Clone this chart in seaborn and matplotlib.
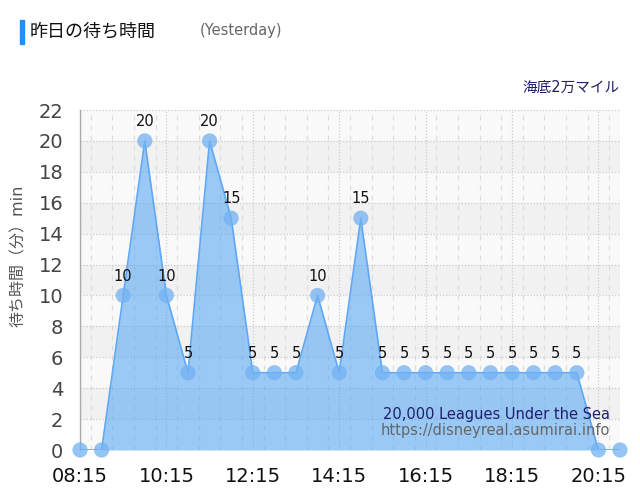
import matplotlib
matplotlib.use("Agg")
import matplotlib.pyplot as plt
import matplotlib.patches as mpatches
from matplotlib.ticker import MultipleLocator
import seaborn as sns
import pandas as pd

times = ["08:15", "08:45", "09:15", "09:45", "10:15", "10:45", "11:15", "11:45",
         "12:15", "12:45", "13:15", "13:45", "14:15", "14:45", "15:15", "15:45",
         "16:15", "16:45", "17:15", "17:45", "18:15", "18:45", "19:15", "19:45",
         "20:15", "20:45"]
waits = [0, 0, 10, 20, 10, 5, 20, 15,
         5, 5, 5, 10, 5, 15, 5, 5,
         5, 5, 5, 5, 5, 5, 5, 5,
         0, 0]
tick_labels = ["08:15", "10:15", "12:15", "14:15", "16:15", "18:15", "20:15"]
y_ticks = list(range(0, 23, 2))

title_ja = "昨日の待ち時間"
title_en = "(Yesterday)"
attraction_ja = "海底2万マイル"
attraction_en = "20,000 Leagues Under the Sea"
site_url = "https://disneyreal.asumirai.info"
ylabel = "待ち時間（分）min"


def to_min(t):
    h, m = t.split(":")
    return int(h) * 60 + int(m)


df = pd.DataFrame({"minutes": [to_min(t) for t in times], "wait": waits})

sns.set_theme(style="white")
plt.rcParams["font.family"] = ["DejaVu Sans", "Noto Sans CJK JP"]

fig = plt.figure(figsize=(6.4, 5.0), dpi=100)
ax = fig.add_axes([80 / 640, 1 - 450 / 500, 540 / 640, 340 / 500])
ax.set_facecolor("#f9f9f9")

# alternating bands
for lo in range(2, 22, 4):
    ax.axhspan(lo, lo + 2, color="#f1f1f1", zorder=0, lw=0)

# grid
ax.xaxis.set_minor_locator(MultipleLocator(30))
ax.grid(which="minor", axis="x", color="#dddddd", linestyle=(0, (4, 4)), lw=0.9, zorder=0.5)
ax.grid(which="major", axis="x", color="#cccccc", linestyle=(0, (1, 1.5)), lw=0.9, zorder=0.5)
ax.grid(which="major", axis="y", color="#cccccc", linestyle=(0, (1, 1.5)), lw=0.9, zorder=0.5)

ax.fill_between(df["minutes"], df["wait"], 0, color="#4da3f5", alpha=0.55, lw=0, zorder=2)
sns.lineplot(data=df, x="minutes", y="wait", ax=ax, color="#5ea8f5", lw=1.2, zorder=3)
sns.scatterplot(data=df, x="minutes", y="wait", ax=ax, color="#72b2f2", alpha=0.75,
                s=120, edgecolor="none", zorder=4, clip_on=False)

for xm, v in zip(df["minutes"], df["wait"]):
    if v > 0:
        ax.annotate(str(v), (xm, v), xytext=(0, 14), textcoords="offset points",
                    ha="center", va="center", fontsize=10.5, color="#111111", zorder=5)

ax.set_xlim(df["minutes"].iloc[0], df["minutes"].iloc[-1])
ax.set_ylim(0, 22)
ax.set_xticks([to_min(t) for t in tick_labels])
ax.set_xticklabels(tick_labels)
ax.set_yticks(y_ticks)
ax.tick_params(axis="x", which="major", labelsize=14, labelcolor="#111111", length=10,
               color="#dddddd", width=1, pad=2)
ax.tick_params(axis="x", which="minor", length=0)
ax.tick_params(axis="y", labelsize=14, labelcolor="#444444", length=10,
               color="#dddddd", width=1, pad=2)
ax.set_xlabel("")
ax.set_ylabel(ylabel, fontsize=11.5, color="#555555")
ax.yaxis.set_label_coords(-0.1, 0.57)

for side in ["top", "right", "bottom"]:
    ax.spines[side].set_visible(False)
ax.spines["left"].set_color("#aaaaaa")
ax.spines["left"].set_linewidth(1)
ax.axvline(df["minutes"].iloc[-1], color="#dddddd", linestyle=(0, (4, 4)), lw=0.9, zorder=0.5)

# header
fig.patches.append(mpatches.Rectangle((20 / 640, 1 - 44 / 500), 4 / 640, 24 / 500,
                                      transform=fig.transFigure, color="#1e90ff"))
fig.text(30 / 640, 1 - 31 / 500, title_ja, fontsize=13, color="#111111", va="center", ha="left")
fig.text(200 / 640, 1 - 31 / 500, title_en, fontsize=10.5, color="#666666", va="center", ha="left")
fig.text(620 / 640, 1 - 87 / 500, attraction_ja, fontsize=10.5, color="#1f1f6e", va="center", ha="right")
fig.text(610 / 640, 1 - 415 / 500, attraction_en, fontsize=10.5, color="#1f1f6e", va="center", ha="right")
fig.text(610 / 640, 1 - 431 / 500, site_url, fontsize=10.5, color="#666666", va="center", ha="right")

fig.savefig("out.png", dpi=100)
